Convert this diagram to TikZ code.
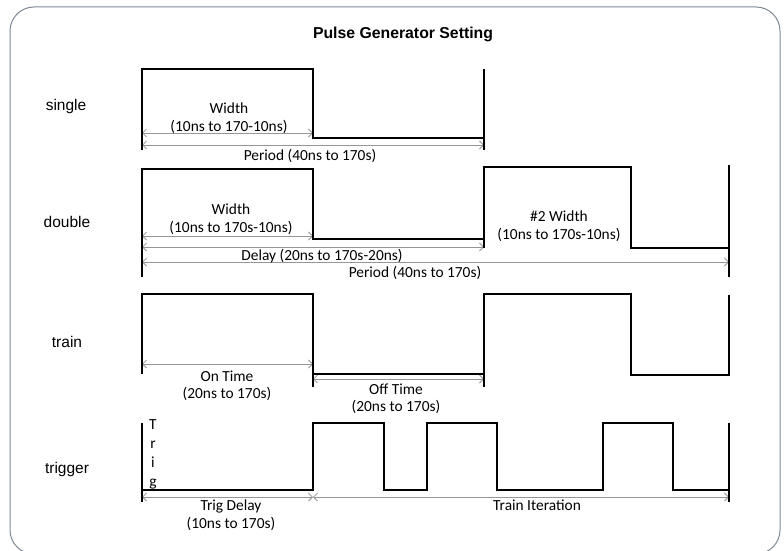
\documentclass[tikz,border=0pt]{standalone}
\usepackage{fontspec}
\setmainfont{Carlito}
\newfontfamily\arialfont{Liberation Sans}
\usetikzlibrary{arrows.meta, positioning}
\definecolor{my_frame}{RGB}{128, 138, 150}
\definecolor{my_dim}{RGB}{150, 150, 150}
\tikzset {
  frame/.style = {draw=my_frame, line width=1pt, rounded corners=24pt},
  wave/.style = {draw, line width=2pt, line join=miter},
  dim/.style = {{Straight Barb[length=4pt, width=8pt]}-{Straight Barb[length=4pt, width=8pt]}, draw=my_dim, line width=0.8pt},
  rowname/.style = {font=\arialfont\fontsize{15.5}{18}\selectfont},
  title/.style = {font=\arialfont\bfseries\fontsize{15.8}{18}\selectfont},
  note/.style = {font=\fontsize{15.4}{18}\selectfont, inner sep=1pt},
  vnote/.style = {font=\fontsize{15.4}{19}\selectfont, inner sep=0pt, align=center, anchor=north}
}

\begin{document}
\begin{tikzpicture}[x=1pt, y=-1pt]
    \useasboundingbox (0,0) rectangle (784,551);
    \draw[frame] (10,7) rectangle (780,554);

    \node[title] (title) at (403,34) {Pulse Generator Setting};

    % row names
    \node[rowname] (single) at (66,106) {single};
    \node[rowname] (double) at (67,222) {double};
    \node[rowname] (train) at (67,342) {train};
    \node[rowname] (trigger) at (67,469) {trigger};

    % single
    \coordinate (sa) at (142,133);
    \coordinate (sb) at (313,133);
    \coordinate (sc) at (142,145);
    \coordinate (sd) at (484,145);
    \draw[dim] (sa) -- (sb);
    \draw[dim] (sc) -- (sd);
    \draw[wave] (142,150) -- (142,69) -- (313,69) -- (313,138) -- (484,138);
    \draw[wave] (484,69) -- (484,150);
    \node[note] (swidth) at (229,108) {Width};
    \node[note] (swrange) at (229,127) {(10ns to 170-10ns)};
    \node[note] (speriod) at (310,156) {Period (40ns to 170s)};

    % double
    \coordinate (da) at (142,236);
    \coordinate (db) at (313,236);
    \coordinate (dc) at (142,247);
    \coordinate (dd) at (484,247);
    \coordinate (de) at (142,262);
    \coordinate (df) at (729,262);
    \draw[dim] (da) -- (db);
    \draw[dim] (dc) -- (dd);
    \draw[dim] (de) -- (df);
    \draw[wave] (142,277) -- (142,169) -- (313,169) -- (313,239) -- (484,239);
    \draw[wave] (484,248) -- (484,167) -- (631,167) -- (631,248) -- (729,248);
    \draw[wave] (729,165) -- (729,277);
    \node[note] (dwidth) at (231,209) {Width};
    \node[note] (dwrange) at (231,228) {(10ns to 170s-10ns)};
    \node[note] (ddelay) at (322,256) {Delay (20ns to 170s-20ns)};
    \node[note] (dperiod) at (415,273) {Period (40ns to 170s)};
    \node[note] (dwidth2) at (559,216) {\#2 Width};
    \node[note] (dw2range) at (559,235) {(10ns to 170s-10ns)};

    % train
    \coordinate (ta) at (142,364);
    \coordinate (tb) at (313,364);
    \coordinate (tc) at (313,379);
    \coordinate (td) at (484,379);
    \draw[dim] (ta) -- (tb);
    \draw[dim] (tc) -- (td);
    \draw[wave] (142,374) -- (142,294) -- (313,294) -- (313,387);
    \draw[wave] (313,374) -- (484,374);
    \draw[wave] (484,387) -- (484,294) -- (631,294) -- (631,375) -- (729,375) -- (729,295);
    \node[note] (ton) at (227,376) {On Time};
    \node[note] (tonrange) at (227,394) {(20ns to 170s)};
    \node[note] (toff) at (396,389) {Off Time};
    \node[note] (toffrange) at (396,407) {(20ns to 170s)};

    % trigger
    \coordinate (ga) at (142,497);
    \coordinate (gb) at (313,497);
    \coordinate (gc) at (729,497);
    \draw[dim] (ga) -- (gb);
    \draw[dim] (gb) -- (gc);
    \draw[wave] (142,502) -- (142,423);
    \draw[wave] (142,490) -- (313,490) -- (313,423) -- (384,423) -- (384,490) -- (427,490) -- (427,423)
        -- (497,423) -- (497,490) -- (603,490) -- (603,423) -- (673,423) -- (673,490) -- (729,490);
    \draw[wave] (729,423) -- (729,502);
    \node[vnote] (trig) at (153,419) {T\\r\\i\\g};
    \node[note] (gdelay) at (231,506) {Trig Delay};
    \node[note] (gdrange) at (231,524) {(10ns to 170s)};
    \node[note] (giter) at (537,505) {Train Iteration};

\end{tikzpicture}
\end{document}
